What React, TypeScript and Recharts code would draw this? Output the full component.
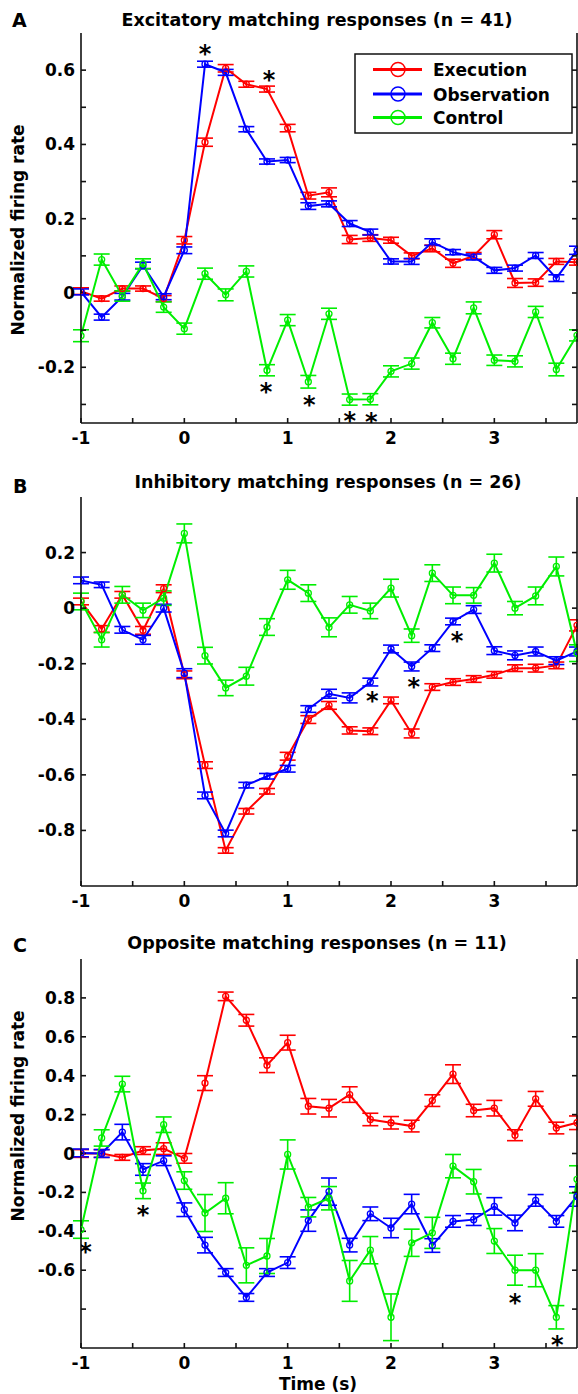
import React from "react";
import { ComposedChart, Line, ErrorBar, Scatter, XAxis, YAxis } from "recharts";

// time bins (s)
const time = [
  -1, -0.8, -0.6, -0.4, -0.2, 0, 0.2, 0.4, 0.6, 0.8, 1, 1.2, 1.4, 1.6, 1.8, 2,
  2.2, 2.4, 2.6, 2.8, 3, 3.2, 3.4, 3.6, 3.8,
];
const xTicks = [-1, -0.5, 0, 0.5, 1, 1.5, 2, 2.5, 3, 3.5];
const xLabels = [-1, 0, 1, 2, 3];

// A: excitatory matching responses (n = 41)
const execA = [0.005, -0.015, 0.012, 0.012, -0.015, 0.142, 0.406, 0.605, 0.562, 0.549, 0.444, 0.262, 0.271, 0.144, 0.148, 0.142, 0.1, 0.12, 0.08, 0.1, 0.157, 0.027, 0.028, 0.085, 0.083];
const obsA = [0.003, -0.065, -0.01, 0.074, -0.01, 0.115, 0.616, 0.594, 0.441, 0.354, 0.358, 0.234, 0.24, 0.187, 0.164, 0.085, 0.085, 0.137, 0.11, 0.097, 0.061, 0.067, 0.101, 0.04, 0.115];
const ctrlA = [-0.115, 0.09, -0.008, 0.079, -0.038, -0.096, 0.052, -0.005, 0.058, -0.208, -0.073, -0.239, -0.056, -0.287, -0.286, -0.211, -0.19, -0.08, -0.177, -0.04, -0.181, -0.184, -0.051, -0.206, -0.114];
const errExecA = [0.009, 0.007, 0.007, 0.007, 0.008, 0.01, 0.011, 0.01, 0.008, 0.008, 0.01, 0.009, 0.012, 0.011, 0.009, 0.008, 0.008, 0.009, 0.011, 0.009, 0.011, 0.012, 0.01, 0.008, 0.008];
const errObsA = [0.008, 0.008, 0.009, 0.009, 0.008, 0.009, 0.008, 0.008, 0.007, 0.007, 0.007, 0.009, 0.008, 0.008, 0.008, 0.007, 0.008, 0.009, 0.007, 0.008, 0.008, 0.008, 0.008, 0.009, 0.011];
const errCtrlA = [0.016, 0.015, 0.014, 0.013, 0.014, 0.015, 0.015, 0.016, 0.015, 0.015, 0.015, 0.017, 0.015, 0.015, 0.015, 0.015, 0.015, 0.014, 0.015, 0.016, 0.014, 0.015, 0.015, 0.017, 0.015];
const starsA = [
  { t: 0.2, v: 0.659 },
  { t: 0.82, v: 0.589 },
  { t: 0.79, v: -0.253 },
  { t: 1.21, v: -0.287 },
  { t: 1.6, v: -0.329 },
  { t: 1.81, v: -0.333 },
];

// B: inhibitory matching responses (n = 26)
const execB = [0.024, -0.075, 0.048, -0.08, 0.07, -0.24, -0.565, -0.872, -0.731, -0.659, -0.533, -0.401, -0.35, -0.44, -0.443, -0.332, -0.451, -0.284, -0.266, -0.255, -0.24, -0.216, -0.216, -0.206, -0.062];
const obsB = [0.1, 0.084, -0.078, -0.114, 0.0, -0.234, -0.674, -0.811, -0.637, -0.605, -0.578, -0.363, -0.308, -0.323, -0.266, -0.147, -0.21, -0.144, -0.048, -0.005, -0.153, -0.17, -0.156, -0.189, -0.156];
const ctrlB = [0.024, -0.114, 0.048, -0.008, 0.036, 0.269, -0.171, -0.287, -0.245, -0.068, 0.102, 0.054, -0.069, 0.012, -0.01, 0.072, -0.099, 0.126, 0.046, 0.046, 0.162, 0.0, 0.044, 0.15, -0.162];
const errExecB = [0.012, 0.012, 0.012, 0.014, 0.014, 0.014, 0.012, 0.01, 0.01, 0.01, 0.014, 0.014, 0.014, 0.013, 0.012, 0.012, 0.016, 0.012, 0.012, 0.012, 0.012, 0.012, 0.014, 0.012, 0.02];
const errObsB = [0.012, 0.01, 0.012, 0.016, 0.014, 0.016, 0.012, 0.012, 0.01, 0.01, 0.012, 0.012, 0.016, 0.018, 0.014, 0.014, 0.016, 0.012, 0.012, 0.014, 0.014, 0.016, 0.016, 0.014, 0.016];
const errCtrlB = [0.03, 0.026, 0.03, 0.026, 0.026, 0.034, 0.03, 0.028, 0.032, 0.03, 0.034, 0.03, 0.034, 0.03, 0.028, 0.032, 0.024, 0.03, 0.03, 0.028, 0.032, 0.024, 0.032, 0.034, 0.03];
const starsB = [
  { t: 1.82, v: -0.314 },
  { t: 2.22, v: -0.263 },
  { t: 2.64, v: -0.099 },
];

// C: opposite matching responses (n = 11)
const execC = [0.0, 0.0, -0.02, 0.015, 0.025, -0.025, 0.362, 0.808, 0.685, 0.454, 0.57, 0.243, 0.233, 0.303, 0.175, 0.158, 0.141, 0.272, 0.408, 0.221, 0.233, 0.094, 0.281, 0.131, 0.158];
const obsC = [0.003, 0.0, 0.11, -0.082, -0.037, -0.289, -0.471, -0.612, -0.74, -0.612, -0.561, -0.345, -0.196, -0.471, -0.31, -0.383, -0.26, -0.473, -0.349, -0.34, -0.272, -0.357, -0.241, -0.349, -0.221];
const ctrlC = [-0.391, 0.08, 0.357, -0.192, 0.148, -0.139, -0.306, -0.23, -0.575, -0.527, -0.005, -0.276, -0.23, -0.655, -0.497, -0.842, -0.459, -0.408, -0.065, -0.145, -0.45, -0.6, -0.6, -0.842, -0.133];
const errExecC = [0.02, 0.02, 0.015, 0.02, 0.03, 0.025, 0.038, 0.022, 0.03, 0.038, 0.038, 0.04, 0.045, 0.04, 0.032, 0.032, 0.03, 0.03, 0.048, 0.032, 0.04, 0.028, 0.038, 0.03, 0.035];
const errObsC = [0.02, 0.02, 0.04, 0.03, 0.025, 0.035, 0.04, 0.02, 0.02, 0.02, 0.03, 0.055, 0.07, 0.035, 0.035, 0.05, 0.05, 0.035, 0.03, 0.03, 0.045, 0.04, 0.03, 0.03, 0.05];
const errCtrlC = [0.045, 0.042, 0.04, 0.04, 0.04, 0.045, 0.095, 0.08, 0.09, 0.09, 0.075, 0.05, 0.06, 0.105, 0.07, 0.12, 0.07, 0.08, 0.06, 0.063, 0.064, 0.077, 0.085, 0.06, 0.07];
const starsC = [
  { t: -0.955, v: -0.48 },
  { t: -0.4, v: -0.289 },
  { t: 3.2, v: -0.74 },
  { t: 3.61, v: -0.956 },
];

const seriesNames = ["Execution", "Observation", "Control"];
const seriesColors = ["#ff0000", "#0000ff", "#00ee00"];

const FONT = "'DejaVu Sans', Verdana, sans-serif";
const tickStyle = { fill: "#000", fontSize: 17, fontWeight: "bold", fontFamily: FONT };
const frame = { stroke: "#111", strokeWidth: 1.6 };

interface PanelProps {
  top: number;
  height: number;
  plotTop: number;
  plotBottom: number;
  yDomain: [number, number];
  yTicks: number[];
  yLabels: number[];
  exec: number[];
  obs: number[];
  ctrl: number[];
  errExec: number[];
  errObs: number[];
  errCtrl: number[];
  stars: { t: number; v: number }[];
}

// significance marker drawn as a bold asterisk centred on the point
const Star = (props: any) => {
  const { cx, cy } = props;
  if (cx == null || cy == null) return null;
  return (
    <text x={cx} y={cy} dy={13.5} textAnchor="middle" fontSize={24} fontWeight="bold" fontFamily={FONT} fill="#000">
      *
    </text>
  );
};

const Panel: React.FC<PanelProps> = (p) => {
  const data = time.map((t, i) => ({
    t,
    e: p.exec[i],
    o: p.obs[i],
    c: p.ctrl[i],
    eE: p.errExec[i],
    eO: p.errObs[i],
    eC: p.errCtrl[i],
  }));
  const keys = [
    ["e", "eE"],
    ["o", "eO"],
    ["c", "eC"],
  ];
  const fmtY = (v: number) => (p.yLabels.includes(v) ? String(v) : "");
  const fmtX = (v: number) => (xLabels.includes(v) ? String(v) : "");
  const marginTop = p.plotTop - p.top;
  const marginBottom = p.top + p.height - 30 - p.plotBottom;

  return (
    <div style={{ position: "absolute", left: 0, top: p.top }}>
      <ComposedChart
        width={578}
        height={p.height}
        data={data}
        margin={{ top: marginTop, right: 0, bottom: marginBottom, left: 0 }}
      >
        <XAxis
          dataKey="t"
          type="number"
          domain={[-1, 3.8]}
          allowDataOverflow
          ticks={xTicks}
          interval={0}
          tickFormatter={fmtX}
          tickSize={-5}
          tickMargin={14}
          height={30}
          axisLine={frame}
          tickLine={frame}
          tick={tickStyle}
        />
        {/* box: ticks also on top and right, like the MATLAB frame */}
        <XAxis
          xAxisId="top"
          orientation="top"
          type="number"
          domain={[-1, 3.8]}
          allowDataOverflow
          ticks={xTicks}
          interval={0}
          tickFormatter={() => ""}
          tickSize={-5}
          height={0}
          axisLine={frame}
          tickLine={frame}
        />
        <YAxis
          type="number"
          domain={p.yDomain}
          allowDataOverflow
          ticks={p.yTicks}
          interval={0}
          tickFormatter={fmtY}
          tickSize={-5}
          tickMargin={11}
          width={81}
          axisLine={frame}
          tickLine={frame}
          tick={tickStyle}
        />
        <YAxis
          yAxisId="right"
          orientation="right"
          type="number"
          domain={p.yDomain}
          allowDataOverflow
          ticks={p.yTicks}
          interval={0}
          tickFormatter={() => ""}
          tickSize={-5}
          width={1}
          axisLine={frame}
          tickLine={frame}
        />
        {keys.map(([k, ek], i) => (
          <Line
            key={k}
            dataKey={k}
            type="linear"
            stroke={seriesColors[i]}
            strokeWidth={2}
            dot={{ r: 3, fill: "none", stroke: seriesColors[i], strokeWidth: 1.3 }}
            activeDot={false}
            isAnimationActive={false}
          >
            <ErrorBar dataKey={ek} width={8} stroke={seriesColors[i]} strokeWidth={1.6} direction="y" />
          </Line>
        ))}
        <Scatter data={p.stars.map((s) => ({ t: s.t, v: s.v }))} dataKey="v" shape={<Star />} isAnimationActive={false} />
      </ComposedChart>
    </div>
  );
};

const App: React.FC = () => {
  const legendRows = [69.5, 94, 117.5];
  return (
    <div style={{ position: "relative", width: 578, height: 1394, background: "#fff", overflow: "hidden" }}>
      <style>{"body{margin:0}"}</style>
      <Panel
        top={0}
        height={460}
        plotTop={33}
        plotBottom={423}
        yDomain={[-0.35, 0.7]}
        yTicks={[-0.3, -0.2, -0.1, 0, 0.1, 0.2, 0.3, 0.4, 0.5, 0.6]}
        yLabels={[-0.2, 0, 0.2, 0.4, 0.6]}
        exec={execA}
        obs={obsA}
        ctrl={ctrlA}
        errExec={errExecA}
        errObs={errObsA}
        errCtrl={errCtrlA}
        stars={starsA}
      />
      <Panel
        top={460}
        height={460}
        plotTop={497}
        plotBottom={886}
        yDomain={[-1, 0.4]}
        yTicks={[-0.8, -0.6, -0.4, -0.2, 0, 0.2]}
        yLabels={[-0.8, -0.6, -0.4, -0.2, 0, 0.2]}
        exec={execB}
        obs={obsB}
        ctrl={ctrlB}
        errExec={errExecB}
        errObs={errObsB}
        errCtrl={errCtrlB}
        stars={starsB}
      />
      <Panel
        top={920}
        height={474}
        plotTop={959}
        plotBottom={1348}
        yDomain={[-1, 1]}
        yTicks={[-0.8, -0.6, -0.4, -0.2, 0, 0.2, 0.4, 0.6, 0.8]}
        yLabels={[-0.6, -0.4, -0.2, 0, 0.2, 0.4, 0.6, 0.8]}
        exec={execC}
        obs={obsC}
        ctrl={ctrlC}
        errExec={errExecC}
        errObs={errObsC}
        errCtrl={errCtrlC}
        stars={starsC}
      />
      <svg
        width={578}
        height={1394}
        style={{ position: "absolute", left: 0, top: 0, pointerEvents: "none" }}
        fontFamily={FONT}
        fontWeight="bold"
      >
        <text x={12} y={27} fontSize={19}>A</text>
        <text x={13} y={493} fontSize={19}>B</text>
        <text x={13} y={952} fontSize={19}>C</text>
        <text x={317} y={26} fontSize={17.5} textAnchor="middle">Excitatory matching responses (n = 41)</text>
        <text x={328} y={488} fontSize={17.5} textAnchor="middle">Inhibitory matching responses (n = 26)</text>
        <text x={317} y={949} fontSize={17.5} textAnchor="middle">Opposite matching responses (n = 11)</text>
        <text transform="translate(24,230) rotate(-90)" fontSize={17} textAnchor="middle">Normalized firing rate</text>
        <text transform="translate(24,1116) rotate(-90)" fontSize={17} textAnchor="middle">Normalized firing rate</text>
        <text x={318} y={1390} fontSize={17} textAnchor="middle">Time (s)</text>
        <rect x={355} y={54} width={217} height={79} fill="#fff" stroke="#111" strokeWidth={1.5} />
        {seriesNames.map((name, i) => (
          <g key={name}>
            <line x1={373} x2={422} y1={legendRows[i]} y2={legendRows[i]} stroke={seriesColors[i]} strokeWidth={3} />
            <circle cx={398} cy={legendRows[i]} r={7} fill="none" stroke={seriesColors[i]} strokeWidth={1.5} />
            <text x={433} y={legendRows[i] + 6.5} fontSize={17}>{name}</text>
          </g>
        ))}
      </svg>
    </div>
  );
};

export default App;
